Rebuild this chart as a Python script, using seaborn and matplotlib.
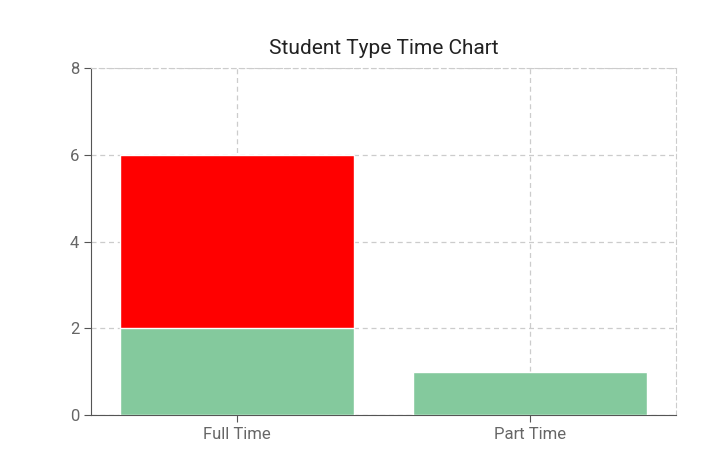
import matplotlib
matplotlib.use("Agg")
import matplotlib.pyplot as plt
import seaborn as sns
import pandas as pd

categories = ["Full Time", "Part Time"]
green_vals = [2, 1]
red_vals = [4, 0]

sns.set_style("white")
plt.rcParams['font.family'] = ['Roboto', 'DejaVu Sans']

df = pd.DataFrame({"type": categories, "green": green_vals,
                   "total": [g + r for g, r in zip(green_vals, red_vals)]})

fig = plt.figure(figsize=(7.08, 4.73), dpi=100)
ax = fig.add_axes([0.1285, 0.1226, 0.8265, 0.7335])

sns.barplot(data=df, x="type", y="total", color="#ff0000", saturation=1, width=0.8, ax=ax, zorder=3)
sns.barplot(data=df, x="type", y="green", color="#84c99d", saturation=1, width=0.8, ax=ax, zorder=3)

ax.set_xlim(-0.5, 1.5)
ax.set_ylim(0, 8)
ax.set_yticks([0, 2, 4, 6, 8])
ax.grid(True, linestyle=(0, (4, 3)), color="#cccccc", linewidth=0.9, zorder=0)
ax.set_xlabel("")
ax.set_ylabel("")
ax.set_title("Student Type Time Chart", fontsize=15, color="#222222", pad=10)
for s in ["top", "right"]:
    ax.spines[s].set_linestyle((0, (4, 3)))
    ax.spines[s].set_color("#cccccc")
for s in ["left", "bottom"]:
    ax.spines[s].set_color("#555555")
ax.tick_params(axis="both", labelsize=12, labelcolor="#666666", color="#555555", length=5, left=True, bottom=True)
fig.savefig("out.png")
